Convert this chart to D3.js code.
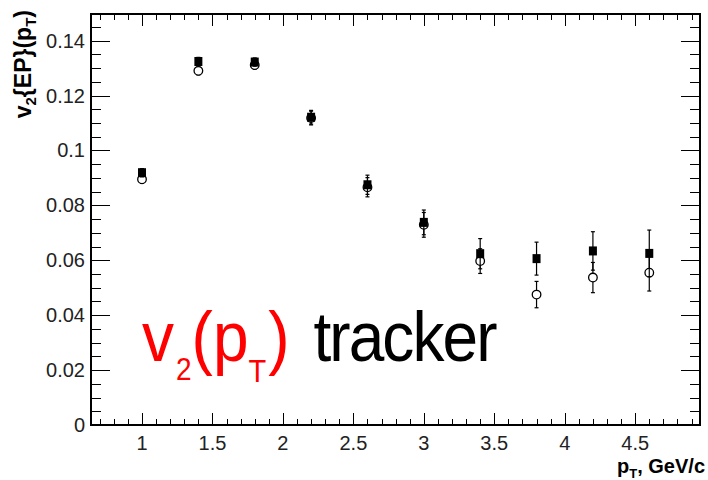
<!DOCTYPE html>
<html><head><meta charset="utf-8">
<script src="https://cdn.jsdelivr.net/npm/d3@7"></script>
<style>body{margin:0;background:#fff;} text{font-family:"Liberation Sans",Arial,Helvetica,sans-serif;}</style>
</head><body>
<svg id="c" width="708" height="480"></svg>
<script>
const pt = [1.0, 1.4, 1.8, 2.2, 2.6, 3.0, 3.4, 3.8, 4.2, 4.6];
const v2Squares = [0.0919, 0.1324, 0.1322, 0.1121, 0.0875, 0.0738, 0.0624, 0.0606, 0.0634, 0.0625];
const v2SquaresErr = [0.0015, 0.0015, 0.0015, 0.0025, 0.0035, 0.0045, 0.0055, 0.006, 0.007, 0.0085];
const v2Circles = [0.0895, 0.1290, 0.1311, 0.1118, 0.0866, 0.0729, 0.0597, 0.0475, 0.0537, 0.0555];
const v2CirclesErr = [0.0015, 0.0015, 0.0015, 0.0025, 0.0035, 0.0045, 0.0045, 0.0048, 0.0055, 0.0067];
const xTickLabels = ["1", "1.5", "2", "2.5", "3", "3.5", "4", "4.5"];
const yTickLabels = ["0", "0.02", "0.04", "0.06", "0.08", "0.1", "0.12", "0.14"];

const svg = d3.select("#c");
const L = 91, R = 700, T = 14, B = 425;
const x = d3.scaleLinear().domain([0.638, 4.96]).range([L, R]);
const y = d3.scaleLinear().domain([0, 0.1497]).range([B, T]);

const g = svg.append("g");
const xMinor = d3.range(0.7, 4.96, 0.1).map(v => +v.toFixed(2));
const yMinor = d3.range(0, 0.1497, 0.005).map(v => +v.toFixed(4));
const xMajorVals = xTickLabels.map(Number);
const yMajorVals = yTickLabels.map(Number);
const isMajX = v => xMajorVals.some(m => Math.abs(m - v) < 1e-6);
const isMajY = v => yMajorVals.some(m => Math.abs(m - v) < 1e-6);

g.append("g").attr("transform", `translate(0,${B})`).call(d3.axisBottom(x).tickValues(xMinor).tickSize(0).tickFormat(""))
  .call(s => s.select(".domain").remove())
  .selectAll(".tick line").attr("y2", d => isMajX(d) ? -12 : -6).attr("stroke", "#000").attr("shape-rendering","crispEdges");
g.append("g").attr("transform", `translate(0,${T})`).call(d3.axisTop(x).tickValues(xMinor).tickSize(0).tickFormat(""))
  .call(s => s.select(".domain").remove())
  .selectAll(".tick line").attr("y2", d => isMajX(d) ? 12 : 6).attr("stroke", "#000").attr("shape-rendering","crispEdges");
g.append("g").attr("transform", `translate(${L},0)`).call(d3.axisLeft(y).tickValues(yMinor).tickSize(0).tickFormat(""))
  .call(s => s.select(".domain").remove())
  .selectAll(".tick line").attr("x2", d => isMajY(d) ? 19 : 10).attr("stroke", "#000").attr("shape-rendering","crispEdges");
g.append("g").attr("transform", `translate(${R},0)`).call(d3.axisRight(y).tickValues(yMinor).tickSize(0).tickFormat(""))
  .call(s => s.select(".domain").remove())
  .selectAll(".tick line").attr("x2", d => isMajY(d) ? -19 : -10).attr("stroke", "#000").attr("shape-rendering","crispEdges");

svg.append("rect").attr("x", L).attr("y", T).attr("width", R - L).attr("height", B - T)
  .attr("fill", "none").attr("stroke", "#000").attr("stroke-width", 1.5).attr("shape-rendering","crispEdges");

svg.append("g").selectAll("text").data(xTickLabels).join("text")
  .attr("x", d => x(+d)).attr("y", 450).attr("text-anchor", "middle")
  .attr("font-size", 20).attr("fill", "#222").text(d => d);
svg.append("g").selectAll("text").data(yTickLabels).join("text")
  .attr("x", 85).attr("y", d => y(+d) + 7).attr("text-anchor", "end")
  .attr("font-size", 20).attr("fill", "#222").text(d => d);

const xt = svg.append("text").attr("x", 705).attr("y", 473).attr("text-anchor", "end")
  .attr("font-size", 20).attr("font-weight", "bold");
xt.append("tspan").text("p");
xt.append("tspan").attr("font-size", 13).attr("dy", 5).text("T");
xt.append("tspan").attr("dy", -5).text(", GeV/c");

const yt = svg.append("text").attr("transform", "translate(31,10) rotate(-90)").attr("text-anchor", "end")
  .attr("font-size", 23).attr("font-weight", "bold");
yt.append("tspan").text("v");
yt.append("tspan").attr("font-size", 15).attr("dy", 5).text("2");
yt.append("tspan").attr("dy", -5).text("{EP}(p");
yt.append("tspan").attr("font-size", 15).attr("dy", 5).text("T");
yt.append("tspan").attr("dy", -5).text(")");

function series(vals, errs, kind) {
  const gg = svg.append("g");
  const data = pt.map((p, i) => ({p, v: vals[i], e: errs[i]}));
  gg.selectAll("line.eb").data(data).join("line").attr("class","eb")
    .attr("x1", d => x(d.p)).attr("x2", d => x(d.p))
    .attr("y1", d => y(d.v - d.e)).attr("y2", d => y(d.v + d.e))
    .attr("stroke", "#000").attr("stroke-width", 1.2);
  ["lo","hi"].forEach(k => {
    gg.selectAll("line.cap"+k).data(data).join("line").attr("class","cap"+k)
      .attr("x1", d => x(d.p) - 2).attr("x2", d => x(d.p) + 2)
      .attr("y1", d => y(k === "lo" ? d.v - d.e : d.v + d.e))
      .attr("y2", d => y(k === "lo" ? d.v - d.e : d.v + d.e))
      .attr("stroke", "#000").attr("stroke-width", 1.2);
  });
  if (kind === "circle") {
    gg.selectAll("circle").data(data).join("circle")
      .attr("cx", d => x(d.p)).attr("cy", d => y(d.v)).attr("r", 4.3)
      .attr("fill", "#fff").attr("stroke", "#000").attr("stroke-width", 1.3);
  } else {
    gg.selectAll("rect").data(data).join("rect")
      .attr("x", d => x(d.p) - 4).attr("y", d => y(d.v) - 4.5).attr("width", 8).attr("height", 9)
      .attr("fill", "#000");
  }
}
series(v2Circles, v2CirclesErr, "circle");
series(v2Squares, v2SquaresErr, "square");

const an = svg.append("text").attr("transform", "translate(142,361) scale(1,1.1)").attr("font-size", 64);
an.append("tspan").attr("fill", "#ff0000").text("v");
an.append("tspan").attr("fill", "#ff0000").attr("font-size", 28).attr("dy", 17).attr("dx", 2).text("2");
an.append("tspan").attr("fill", "#ff0000").attr("dy", -17).text("(p");
an.append("tspan").attr("fill", "#ff0000").attr("font-size", 29).attr("dy", 19).text("T");
an.append("tspan").attr("fill", "#ff0000").attr("dy", -19).attr("dx", 2).text(")");
an.append("tspan").attr("fill", "#000").attr("dx", 8).attr("textLength", 200).text(" tracker");
</script>
</body></html>
